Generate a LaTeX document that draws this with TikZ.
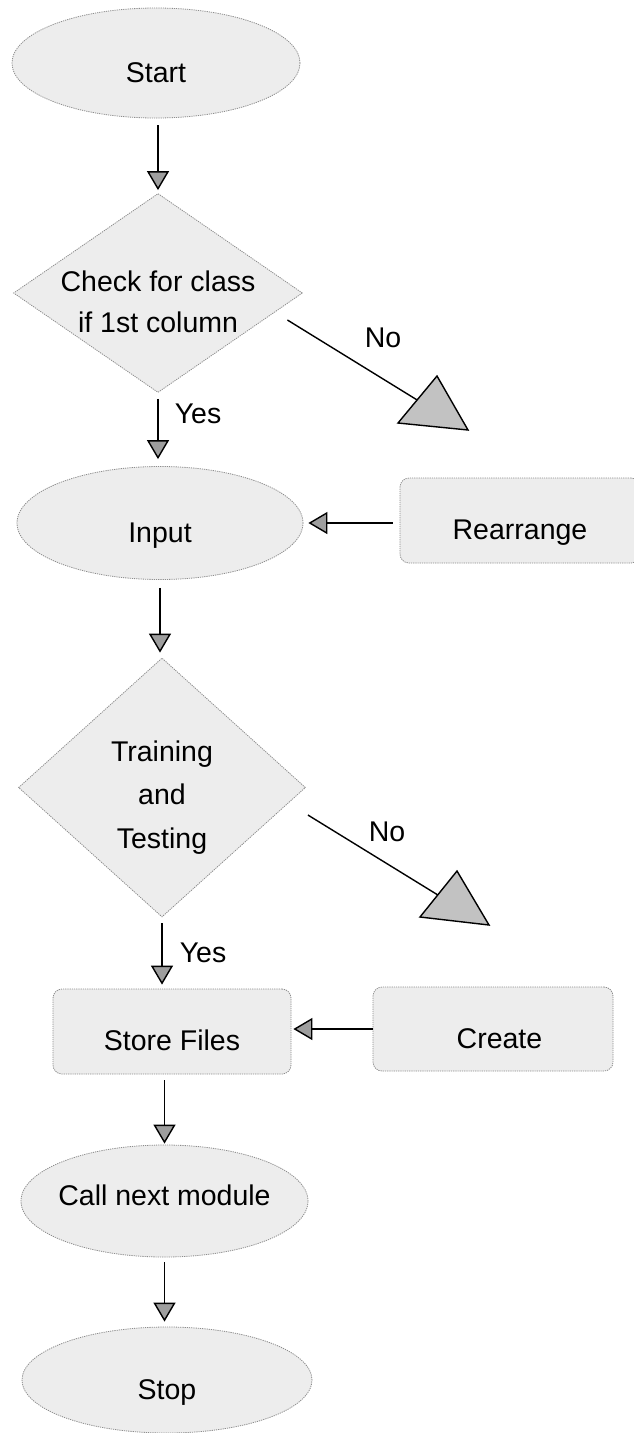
\documentclass[tikz,border=0pt]{standalone}
\usepackage{fontspec}
\setmainfont{Liberation Sans}
\usetikzlibrary{shapes.geometric, arrows.meta, calc}

% struts that set where a label sits inside its shape
\newcommand\lowstrut{\rule[-7pt]{0pt}{52pt}}
\newcommand\topstrut[1]{\rule{0pt}{#1}}

\begin{document}
\begin{tikzpicture}[x=1pt, y=-1pt,
  every node/.style={font=\fontsize{28.5pt}{41pt}\selectfont, inner sep=0pt},
  shapefill/.style={draw=black!45, line width=0.8pt, dash pattern=on 1.2pt off 1pt, fill=black!7},
  term/.style={shapefill, ellipse, inner xsep=-6pt},
  decision/.style={shapefill, diamond, align=center},
  procbox/.style={shapefill, rectangle, rounded corners=9pt},
  flow/.style={line width=1.4pt, -{Triangle[length=19pt, width=22pt, fill=black!38]}},
  bigtri/.style={line width=1.4pt, fill=black!24, line join=miter},
  plainline/.style={line width=1.4pt},
  lbl/.style={font=\fontsize{28.5pt}{34pt}\selectfont}
]
\useasboundingbox (0,0) rectangle (634,1433);
\clip (0,0) rectangle (634,1433);
\fill[white] (0,0) rectangle (634,1433);

% main column
\node[term, minimum width=288pt, minimum height=110pt] (start) at (156,63) {\lowstrut Start};
\node[decision, minimum width=289pt, minimum height=199pt, aspect=1.45,
      inner xsep=-15pt, inner ysep=-12pt] (check) at (158,293)
      {\topstrut{39pt}Check for class\\if 1st column};
\node[term, minimum width=286pt, minimum height=113pt] (input) at (160,523) {\lowstrut Input};
\node[decision, font=\fontsize{28.5pt}{43.5pt}\selectfont, minimum width=287pt,
      minimum height=259pt, aspect=1.1] (train) at (162,787.5)
      {\topstrut{40pt}Training\\and\\Testing};
\node[procbox, minimum width=238pt, minimum height=85pt] (store) at (172,1031.5) {\lowstrut Store Files};
\node[term, minimum width=287pt, minimum height=112pt] (call) at (164.5,1201)
      {\rule[-12pt]{0pt}{12pt}Call next module};
\node[term, minimum width=290pt, minimum height=106pt] (stop) at (167,1380) {\lowstrut Stop};

% side boxes
\node[procbox, minimum width=240pt, minimum height=85pt] (rearr) at (520,520.5) {\lowstrut Rearrange};
\node[procbox, minimum width=240pt, minimum height=84pt] (create) at (493,1029)
      {\lowstrut\hspace{13pt}Create};

% "No" branches ending in large triangles
\coordinate (t1a) at (437,376);
\coordinate (t1l) at (398,423);
\coordinate (t1r) at (468,430);
\draw[bigtri] (t1l) -- (t1a) -- (t1r) -- cycle;
\coordinate (t1in) at ($(t1l)!0.49!(t1a)$);
\draw[plainline] ([shift={(-15.5,27)}]check.east) -- (t1in);

\coordinate (t2a) at (457,871);
\coordinate (t2l) at (420,917);
\coordinate (t2r) at (489,925);
\draw[bigtri] (t2l) -- (t2a) -- (t2r) -- cycle;
\coordinate (t2in) at ($(t2l)!0.48!(t2a)$);
\draw[plainline] ([shift={(2,27.5)}]train.east) -- (t2in);

% branch labels
\node[lbl] (no1) at (383,338) {No};
\node[lbl] (yes1) at (198,414) {Yes};
\node[lbl] (no2) at (387,832) {No};
\node[lbl] (yes2) at (203,953) {Yes};

% flow arrows
\draw[flow, shorten <=7pt, shorten >=3pt] (start.south -| check.north) -- (check.north);
\draw[flow, shorten <=6pt, shorten >=7pt] (check.south) -- (check.south |- input.north);
\draw[flow, shorten <=8pt, shorten >=5pt] (input.south) -- (input.south |- train.north);
\draw[flow, shorten <=6pt, shorten >=4pt] (train.south) -- (train.south |- store.north);
\draw[flow, shorten <=6pt, shorten >=1pt] (store.south -| call.north) -- (call.north);
\draw[flow, shorten <=5pt, shorten >=5pt] (call.south) -- (call.south |- stop.north);
\draw[flow, shorten <=7pt, shorten >=5pt] (rearr.west |- input.east) -- (input.east);
\draw[flow, shorten >=2pt] (create.west) -- (create.west -| store.east);
\end{tikzpicture}
\end{document}
